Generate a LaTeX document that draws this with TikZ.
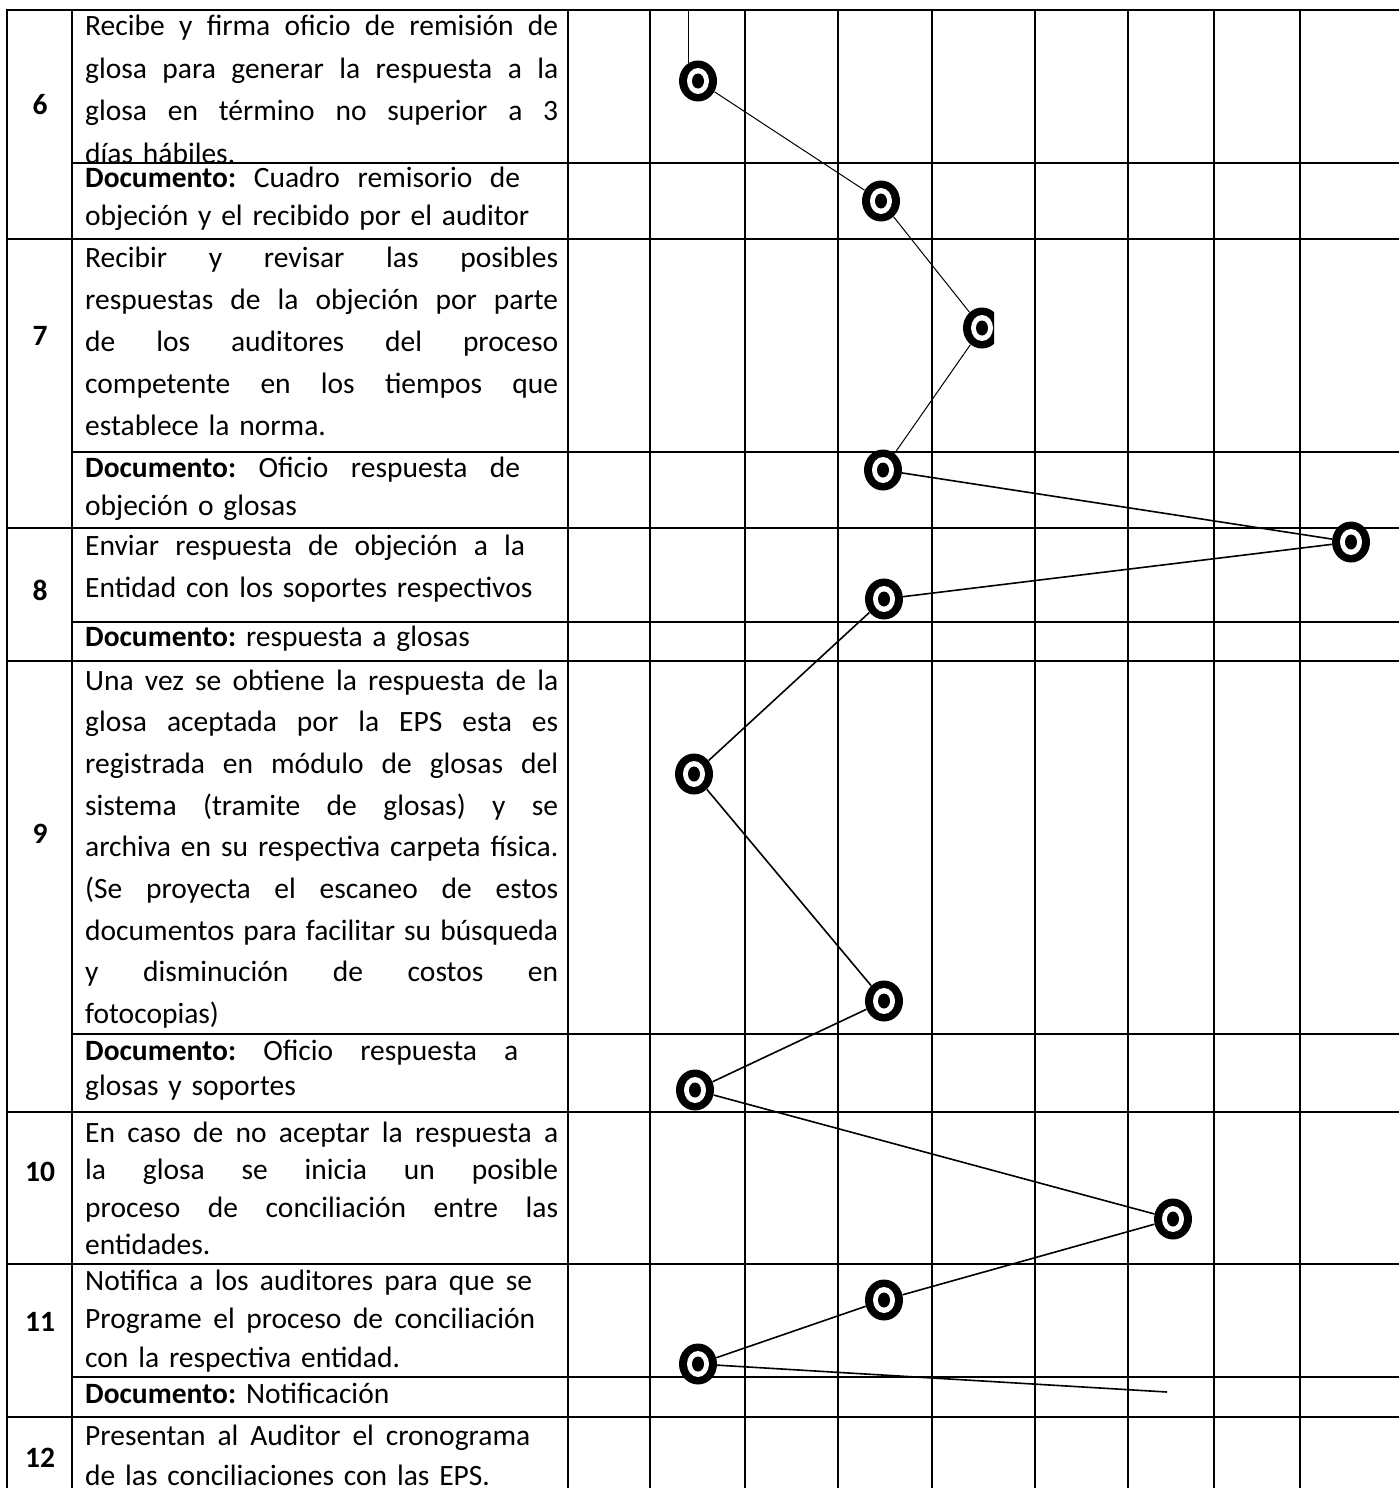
\documentclass[tikz,border=0pt]{standalone}
\usepackage{fontspec}
\setmainfont{Carlito}
\usetikzlibrary{shapes.geometric}
\frenchspacing
\newcommand{\JLine}[2][473pt]{\makebox[#1][s]{\spaceskip=.23em plus 1fil minus .06em\relax\xspaceskip=\spaceskip #2}}
\begin{document}
\begin{tikzpicture}[x=1pt,y=-1pt,
  grid/.style={line width=2pt},
  conn/.style={line width=1.6pt},
  thinconn/.style={line width=1pt},
  marker/.style={ellipse, fill=black, minimum width=38pt, minimum height=41pt, inner sep=0pt,
    path picture={
      \fill[white] (path picture bounding box.center) ellipse [x radius=11pt, y radius=13pt];
      \fill[black] (path picture bounding box.center) ellipse [x radius=6pt, y radius=7.5pt];}},
  txt/.style={anchor=base west, inner sep=0pt, text width=473pt, align=left,
    font=\fontsize{29.5}{#1}\selectfont},
  num/.style={inner sep=0pt, font=\fontsize{29.5}{36}\selectfont\bfseries},
]
\useasboundingbox[fill=white] (0,0) rectangle (1398,1488);

% ---------- table grid ----------
\foreach \x in {7,72,568,650,745,838,932,1035,1128,1214,1300}
  \draw[grid] (\x,10) -- (\x,1490);
\foreach \y in {10,239,528,661,1112,1264,1417}
  \draw[grid] (6,\y) -- (1400,\y);
\foreach \y in {163,452,622,1034,1377}
  \draw[grid] (72,\y) -- (1400,\y);

% ---------- step numbers ----------
\node[num] (n6) at (40,105) {6};
\node[num] (n7) at (40,336) {7};
\node[num] (n8) at (40,590) {8};
\node[num] (n9) at (40,834) {9};
\node[num] (n10) at (40,1172) {10};
\node[num] (n11) at (40,1322) {11};
\node[num] (n12) at (40,1458) {12};

% ---------- texts ----------
\begin{scope}
\clip (73,11) rectangle (567,162);
\node[txt=42.5] (t6) at (85,36) {\JLine{Recibe y firma oficio de remisión de}\\
\JLine{glosa para generar la respuesta a la}\\
\JLine{glosa en término no superior a 3}\\
días hábiles.};
\end{scope}
\node[txt=38] (d6) at (85,187) {\JLine[435pt]{\textbf{Documento:} Cuadro remisorio de}\\
objeción y el recibido por el auditor};

\node[txt=42] (t7) at (85,267) {\JLine{Recibir y revisar las posibles}\\
\JLine{respuestas de la objeción por parte}\\
\JLine{de los auditores del proceso}\\
\JLine{competente en los tiempos que}\\
establece la norma.};
\node[txt=38] (d7) at (85,477) {\JLine[435pt]{\textbf{Documento:} Oficio respuesta de}\\
objeción o glosas};

\node[txt=42] (t8) at (85,555) {\JLine[440pt]{Enviar respuesta de objeción a la}\\
Entidad con los soportes respectivos};
\node[txt=38] (d8) at (85,646) {\textbf{Documento:} respuesta a glosas};

\node[txt=41.7] (t9) at (85,690) {\JLine{Una vez se obtiene la respuesta de la}\\
\JLine{glosa aceptada por la EPS esta es}\\
\JLine{registrada en módulo de glosas del}\\
\JLine{sistema (tramite de glosas) y se}\\
\JLine{archiva en su respectiva carpeta física.}\\
\JLine{(Se proyecta el escaneo de estos}\\
\JLine{documentos para facilitar su búsqueda}\\
\JLine{y disminución de costos en}\\
fotocopias)};
\node[txt=35.5] (d9) at (85,1060) {\JLine[433pt]{\textbf{Documento:} Oficio respuesta a}\\
glosas y soportes};

\node[txt=37.5] (t10) at (85,1142) {\JLine{En caso de no aceptar la respuesta a}\\
\JLine{la glosa se inicia un posible}\\
\JLine{proceso de conciliación entre las}\\
entidades.};

\node[txt=38.5] (t11) at (85,1290) {\JLine[447pt]{Notifica a los auditores para que se}\\
\JLine[450pt]{Programe el proceso de conciliación}\\
con la respectiva entidad.};
\node[txt=38] (d11) at (85,1403) {\textbf{Documento:} Notificación};

\node[txt=40] (t12) at (85,1445) {\JLine[445pt]{Presentan al Auditor el cronograma}\\
de las conciliaciones con las EPS.};

% ---------- markers ----------
\node[marker] (m1) at (698,81) {};
\node[marker] (m2) at (881,201) {};
\begin{scope}
\clip (940,290) rectangle (994,370);
\node[marker] (m3) at (982,328) {};
\end{scope}
\node[marker] (m4) at (883,470) {};
\node[marker] (m5) at (1351,542) {};
\node[marker] (m6) at (884,599) {};
\node[marker] (m7) at (694,774) {};
\node[marker] (m8) at (884,1001) {};
\node[marker] (m9) at (695,1090) {};
\node[marker] (m10) at (1173,1219) {};
\node[marker] (m11) at (884,1300) {};
\node[marker] (m12) at (698,1364) {};
\coordinate (start) at (688,10);
\coordinate (finish) at (1167,1392);

% ---------- connectors ----------
\draw[thinconn] (start) -- (start |- m1.120);
\draw[thinconn] (m1) -- (m2);
\draw[thinconn] (m2) -- (m3);
\draw[thinconn] (m3) -- (m4);
\draw[conn] (m4) -- (m5);
\draw[conn] (m5) -- (m6);
\draw[conn] (m6) -- (m7);
\draw[conn] (m7) -- (m8);
\draw[conn] (m8) -- (m9);
\draw[conn] (m9) -- (m10);
\draw[conn] (m10) -- (m11);
\draw[conn] (m11) -- (m12);
\draw[conn] (m12) -- (finish);
\end{tikzpicture}
\end{document}
